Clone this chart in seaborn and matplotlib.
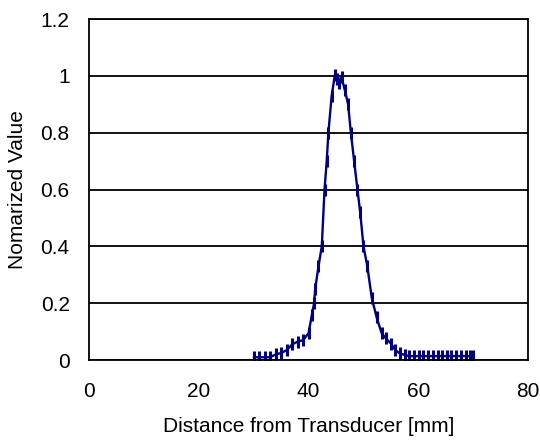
import numpy as np
import pandas as pd
import matplotlib
matplotlib.use("Agg")
import matplotlib.pyplot as plt
import seaborn as sns

sns.set_style("white")
plt.rcParams['font.family'] = ['Liberation Sans', 'DejaVu Sans']
plt.rcParams['text.color'] = 'black'
plt.rcParams['axes.labelcolor'] = 'black'
plt.rcParams['xtick.color'] = 'black'
plt.rcParams['ytick.color'] = 'black'

# distance from transducer [mm] and normalized value
distance = [30, 31, 32, 33, 34, 35, 36, 37, 38, 39, 40,
            40.6, 41.0, 41.2, 41.8, 42.4, 42.9, 43.3, 43.6, 44.2, 44.8,
            45.2, 45.6, 46.0, 46.6, 47.2, 47.7, 48.3, 48.9, 49.4, 50.0,
            50.7, 51.5, 52.4, 53.3, 54.1, 55.0, 55.8, 56.6, 57.5, 58.3,
            59.2, 60.1, 60.9, 61.8, 62.6, 63.5, 64.3, 65.2, 66.0, 66.9,
            67.7, 68.6, 69.5, 70.0]
value = [0.01, 0.01, 0.01, 0.01, 0.02, 0.025, 0.035, 0.055, 0.065, 0.07, 0.095,
         0.16, 0.20, 0.25, 0.33, 0.40, 0.60, 0.70, 0.80, 0.93, 1.005,
         0.99, 0.975, 0.995, 0.95, 0.90, 0.80, 0.70, 0.60, 0.52, 0.40,
         0.33, 0.22, 0.15, 0.095, 0.076, 0.058, 0.035, 0.024, 0.018, 0.014,
         0.014, 0.014, 0.014, 0.014, 0.014, 0.014, 0.014, 0.014, 0.014, 0.014,
         0.014, 0.014, 0.014, 0.014]

df = pd.DataFrame({'Distance': distance, 'Value': value})

fig = plt.figure(figsize=(5.4, 4.44), dpi=100)
ax = fig.add_axes([0.165, 0.189, 0.813, 0.768])

sns.lineplot(data=df, x='Distance', y='Value', ax=ax, color='#000080',
             linewidth=1.7, marker='|', markersize=8.5, markeredgewidth=2.2,
             markeredgecolor='#000080', sort=False)

ax.set_xlim(0, 80)
ax.set_ylim(0, 1.2)
ax.set_xticks([0, 20, 40, 60, 80])
ax.set_yticks([0, 0.2, 0.4, 0.6, 0.8, 1.0, 1.2])
ax.set_yticklabels(['0', '0.2', '0.4', '0.6', '0.8', '1', '1.2'])
ax.yaxis.grid(True, color='black', linewidth=1.3)
ax.set_axisbelow(True)
for s in ax.spines.values():
    s.set_color('black')
    s.set_linewidth(1.3)

ax.tick_params(axis='x', direction='in', length=4, width=1.3, color='black',
               labelsize=15, pad=16)
ax.tick_params(axis='y', length=0, labelsize=15, pad=14)
ax.set_xlabel('Distance from Transducer [mm]', fontsize=15, labelpad=11)
ax.set_ylabel('Nomarized Value', fontsize=15, labelpad=10)

fig.savefig('out.png', dpi=100)
